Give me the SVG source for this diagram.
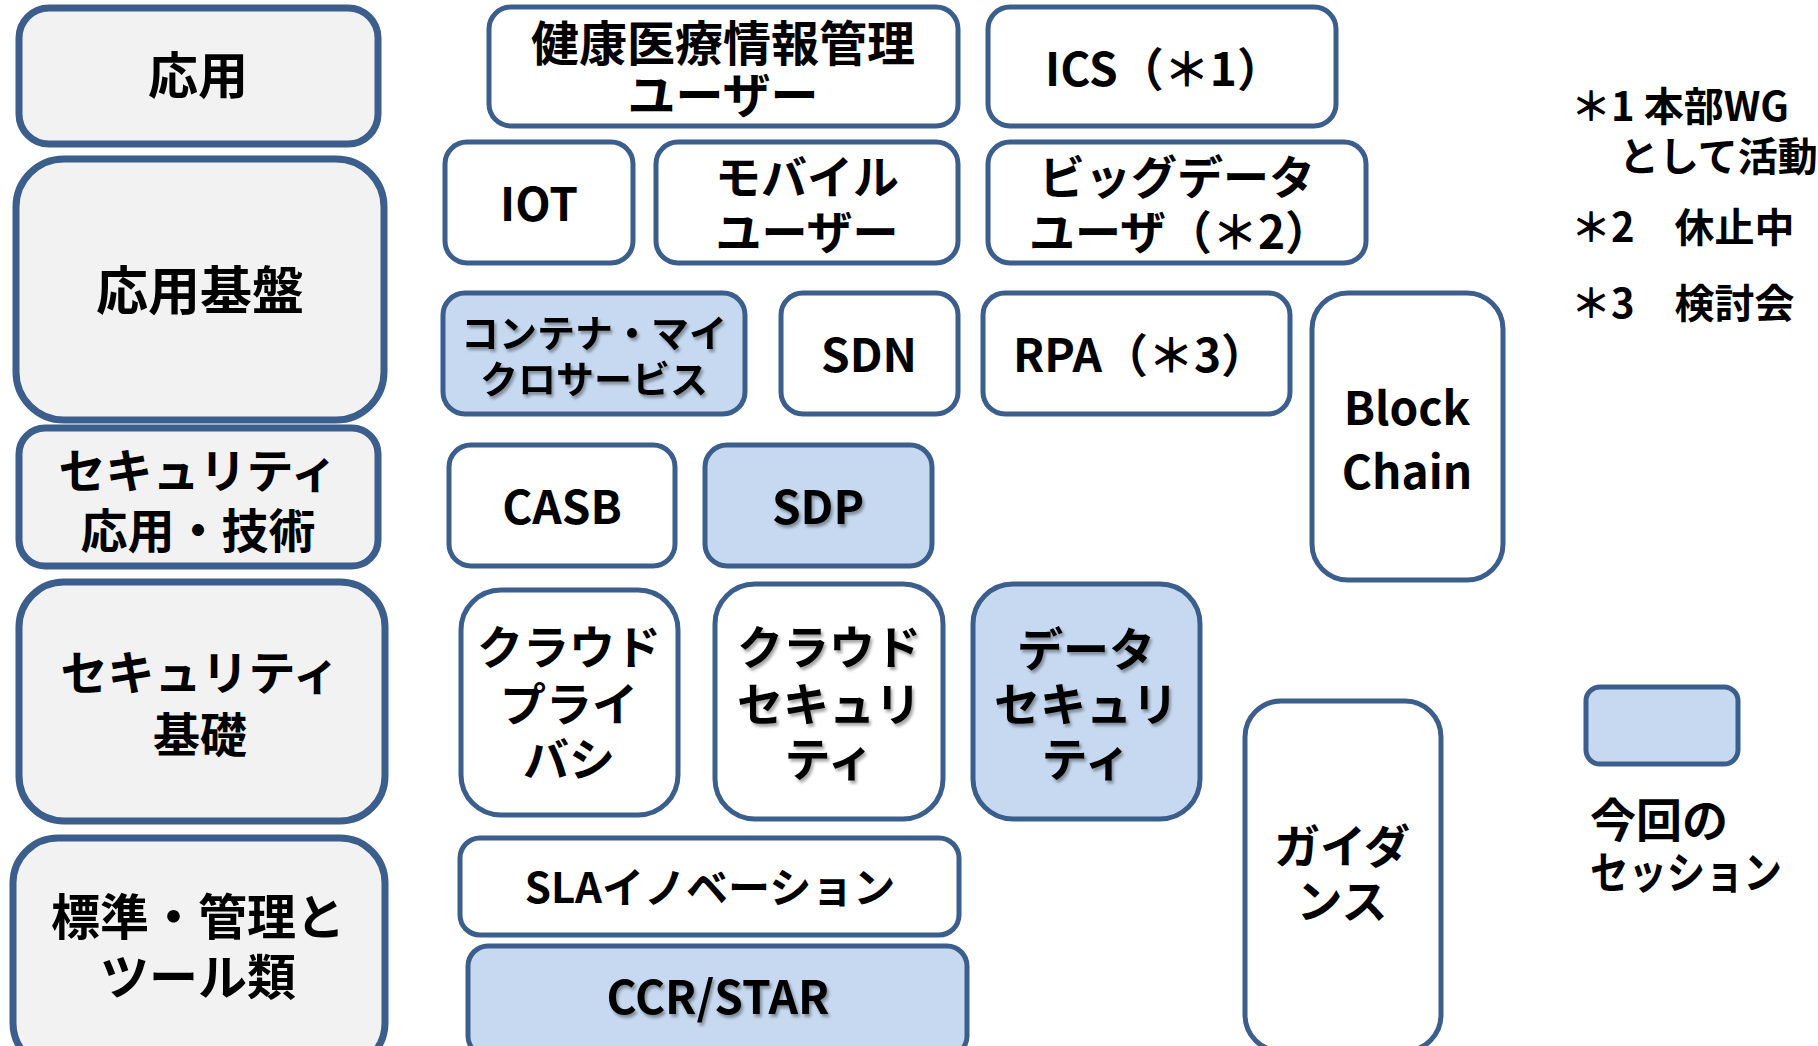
<svg xmlns="http://www.w3.org/2000/svg" width="1818" height="1046" viewBox="0 0 1818 1046">
<style>
.cat rect{fill:#f2f2f2;stroke:#3b5e8c;stroke-width:7}
.n rect{fill:#ffffff;stroke:#3b5e8c;stroke-width:5}
.b rect{fill:#c6d9f0;stroke:#3b5e8c;stroke-width:5}
text{font-family:"Noto Sans CJK JP","Noto Sans",sans-serif;font-weight:bold;fill:#000;text-anchor:middle;dominant-baseline:central}
.lg text{text-anchor:start}
.sh text{filter:url(#ts)}
</style>
<defs>
<filter id="ts" x="-10%" y="-10%" width="130%" height="140%">
<feDropShadow dx="2" dy="3" stdDeviation="1.5" flood-color="#000" flood-opacity="0.35"/>
</filter>
</defs>
<g id="cat-oyo" class="cat"><rect x="19" y="8" width="359" height="136" rx="30"/><text x="198" y="72" font-size="50">応用</text></g>
<g id="cat-kiban" class="cat"><rect x="16" y="159" width="368" height="261" rx="48"/><text x="200" y="287" font-size="52">応用基盤</text></g>
<g id="cat-secapp" class="cat"><rect x="19" y="428" width="359" height="138" rx="26"/><text x="198" y="467" font-size="47">セキュリティ<tspan x="198" dy="60">応用・技術</tspan></text></g>
<g id="cat-secbase" class="cat"><rect x="19" y="582" width="366" height="239" rx="45"/><text x="200" y="669" font-size="47">セキュリティ<tspan x="200" dy="62">基礎</tspan></text></g>
<g id="cat-std" class="cat"><rect x="13" y="838" width="372" height="230" rx="45"/><text x="198" y="913" font-size="49">標準・管理と<tspan x="198" dy="60">ツール類</tspan></text></g>

<g id="health" class="n"><rect x="489" y="7" width="469" height="119" rx="22"/><text x="723" y="40" font-size="48">健康医療情報管理<tspan x="723" dy="52">ユーザー</tspan></text></g>
<g id="ics" class="n"><rect x="988" y="7" width="348" height="119" rx="22"/><text x="1164" y="66" font-size="46">ICS（＊1）</text></g>
<g id="iot" class="n"><rect x="445" y="142" width="188" height="121" rx="22"/><text x="539" y="201" font-size="46">IOT</text></g>
<g id="mobile" class="n"><rect x="656" y="142" width="302" height="121" rx="22"/><text x="807" y="174" font-size="46">モバイル<tspan x="807" dy="55">ユーザー</tspan></text></g>
<g id="bigdata" class="n"><rect x="988" y="142" width="378" height="121" rx="22"/><text x="1177" y="174" font-size="46">ビッグデータ<tspan x="1180" dy="55">ユーザ（＊2）</tspan></text></g>
<g id="container" class="b sh"><rect x="443" y="293" width="302" height="121" rx="22"/><text x="594" y="330" font-size="38">コンテナ・マイ<tspan x="594" dy="46">クロサービス</tspan></text></g>
<g id="sdn" class="n"><rect x="781" y="293" width="177" height="121" rx="22"/><text x="869" y="352" font-size="46">SDN</text></g>
<g id="rpa" class="n"><rect x="983" y="293" width="307" height="121" rx="22"/><text x="1140" y="352" font-size="46">RPA（＊3）</text></g>
<g id="blockchain" class="n"><rect x="1312" y="293" width="191" height="287" rx="36"/><text x="1407" y="405" font-size="46">Block<tspan x="1407" dy="64">Chain</tspan></text></g>
<g id="casb" class="n"><rect x="449" y="445" width="226" height="121" rx="22"/><text x="562" y="504" font-size="46">CASB</text></g>
<g id="sdp" class="b sh"><rect x="705" y="445" width="227" height="121" rx="22"/><text x="818" y="504" font-size="46">SDP</text></g>
<g id="cloudpriv" class="n"><rect x="461" y="590" width="217" height="225" rx="40"/><text x="569" y="644" font-size="46">クラウド<tspan x="569" dy="57">プライ</tspan><tspan x="569" dy="55">バシ</tspan></text></g>
<g id="cloudsec" class="n sh"><rect x="715" y="584" width="228" height="235" rx="40"/><text x="829" y="644" font-size="46">クラウド<tspan x="829" dy="57">セキュリ</tspan><tspan x="829" dy="55">ティ</tspan></text></g>
<g id="datasec" class="b sh"><rect x="973" y="584" width="227" height="235" rx="40"/><text x="1086" y="646" font-size="46">データ<tspan x="1086" dy="55">セキュリ</tspan><tspan x="1086" dy="55">ティ</tspan></text></g>
<g id="guidance" class="n"><rect x="1245" y="701" width="196" height="350" rx="36"/><text x="1342" y="843" font-size="46">ガイダ<tspan x="1342" dy="55">ンス</tspan></text></g>
<g id="sla" class="n"><rect x="460" y="838" width="499" height="97" rx="20"/><text x="710" y="884" font-size="42">SLAイノベーション</text></g>
<g id="ccr" class="b sh"><rect x="468" y="946" width="499" height="110" rx="20"/><text x="718" y="994" font-size="46">CCR/STAR</text></g>

<g id="legend" class="lg">
<text x="1571" y="104" font-size="40">＊1 本部WG<tspan x="1619" dy="50">として活動</tspan></text>
<text x="1571" y="225" font-size="40">＊2　休止中</text>
<text x="1571" y="301" font-size="40">＊3　検討会</text>
</g>
<g id="legend-key" class="b"><rect x="1586" y="687" width="152" height="77" rx="14"/></g>
<g id="legend-text" class="lg"><text x="1590" y="817" font-size="46">今回の<tspan x="1590" dy="53" font-size="44" textLength="192" lengthAdjust="spacingAndGlyphs">セッション</tspan></text></g>
<g id="connectors"></g>
</svg>
